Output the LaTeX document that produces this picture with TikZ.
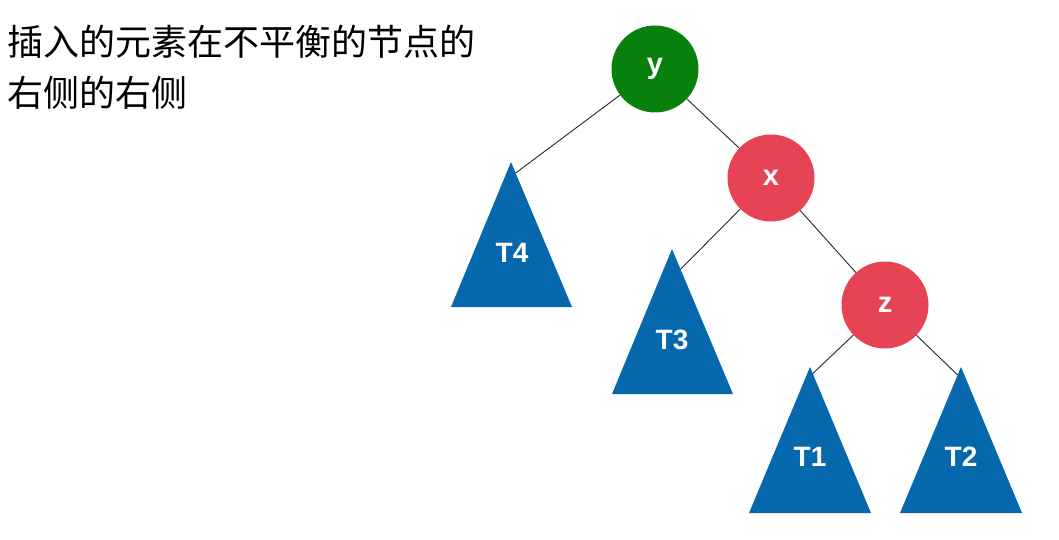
\documentclass[tikz,border=0pt]{standalone}
\usepackage{fontspec}
\usetikzlibrary{calc}
\setmainfont{Liberation Sans}
\newfontfamily\cjk{Noto Sans CJK SC}
\definecolor{ygreen}{RGB}{8,128,12}
\definecolor{nred}{RGB}{230,68,84}
\definecolor{tblue}{RGB}{6,104,172}
\begin{document}
\begin{tikzpicture}[x=1pt,y=-1pt,
  circ/.style={circle,minimum size=87pt,inner sep=0pt,text=white,font=\bfseries\fontsize{29}{29}\selectfont},
  tri/.style={fill=tblue},
  lbl/.style={text=white,font=\bfseries\fontsize{28}{28}\selectfont},
  edge/.style={draw=black!85,line width=0.9pt},
  cjktext/.style={anchor=base west,inner sep=0pt,font=\cjk\fontsize{36}{36}\selectfont}]
\useasboundingbox (0,0) rectangle (1059,540);
% text
\node[cjktext] (t1) at (7,56) {插入的元素在不平衡的节点的};
\node[cjktext] (t2) at (7,107) {右侧的右侧};
% triangles
\coordinate (a4) at (511,162); \coordinate (l4) at (451,307); \coordinate (r4) at (572,307);
\coordinate (a3) at (672,249); \coordinate (l3) at (612,394); \coordinate (r3) at (733,394);
\coordinate (a1) at (810,367); \coordinate (l1) at (749,513); \coordinate (r1) at (871,513);
\coordinate (a2) at (961,367); \coordinate (l2) at (900,513); \coordinate (r2) at (1022,513);
\fill[tri] (a4) -- (l4) -- (r4) -- cycle;
\fill[tri] (a3) -- (l3) -- (r3) -- cycle;
\fill[tri] (a1) -- (l1) -- (r1) -- cycle;
\fill[tri] (a2) -- (l2) -- (r2) -- cycle;
\node[lbl] (T4) at (512,253) {T4};
\node[lbl] (T3) at (672,340) {T3};
\node[lbl] (T1) at (810,457) {T1};
\node[lbl] (T2) at (961,457) {T2};
% circle nodes
\node[circ,fill=ygreen] (y) at (655,69) {y};
\node[circ,fill=nred] (x) at (771,178) {x};
\node[circ,fill=nred] (z) at (885,305) {z};
% connection points on triangles
\coordinate (c4) at ($(a4)!0.076!(r4)$);
\coordinate (c3) at ($(a3)!0.14!(r3)$);
\coordinate (c1) at ($(a1)!0.045!(r1)$);
\coordinate (c2) at ($(a2)!0.055!(l2)$);
% edges
\draw[edge] (y) -- (c4);
\draw[edge] (y) -- (x);
\draw[edge] (x) -- (c3);
\draw[edge] (x) -- (z);
\draw[edge] (z) -- (c1);
\draw[edge] (z) -- (c2);
\end{tikzpicture}
\end{document}
